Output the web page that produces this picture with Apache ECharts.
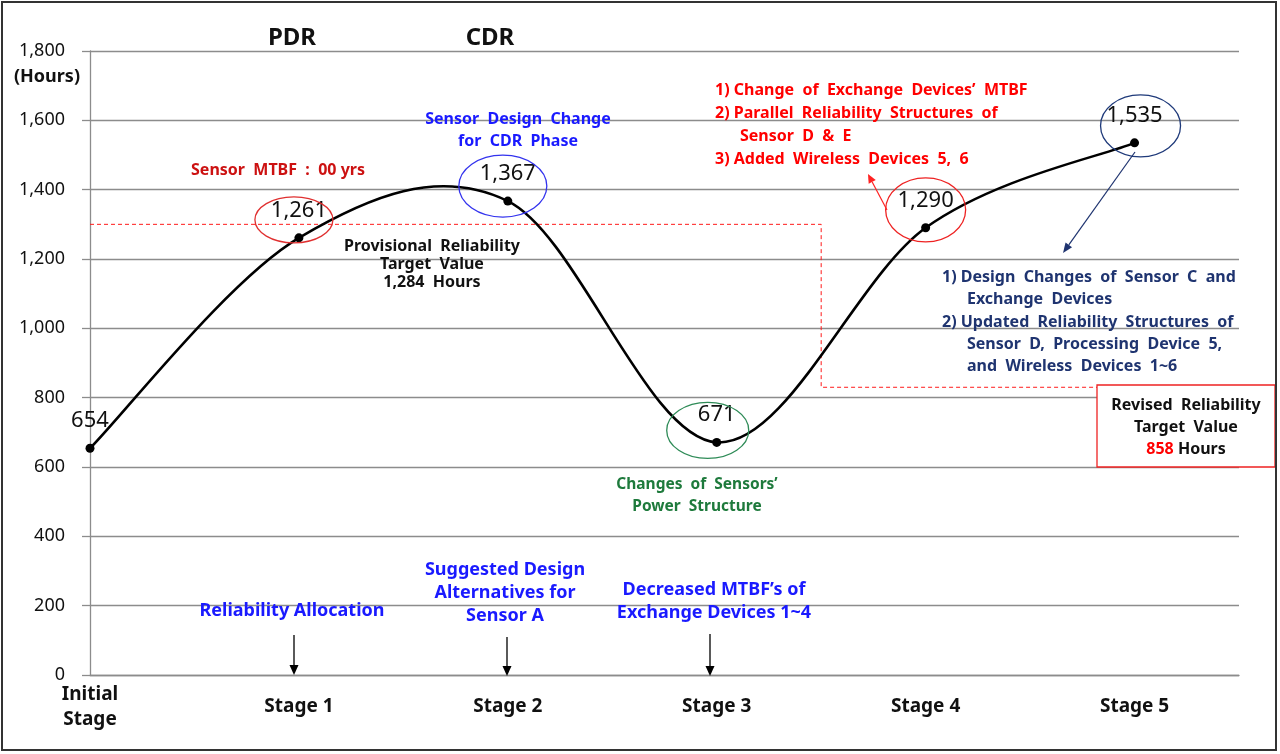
<!DOCTYPE html>
<html><head><meta charset="utf-8">
<script src="https://cdn.jsdelivr.net/npm/echarts@6/dist/echarts.min.js"></script>
<style>html,body{margin:0;padding:0;background:#fff}#c{width:1280px;height:754px}</style>
</head><body><div id="c"></div>
<script>
// ---- data ----
const categories = ['Initial Stage', 'Stage 1', 'Stage 2', 'Stage 3', 'Stage 4', 'Stage 5'];
const mtbfValues = [654, 1261, 1367, 671, 1290, 1535];
const yTickValues = [0, 200, 400, 600, 800, 1000, 1200, 1400, 1600, 1800];
const targetStepX = [0, 3.5, 3.5, 4.83];
const targetStepY = [1300, 1300, 830, 830];
const milestoneLabels = ['PDR', 'CDR'];

const FONT = '"Noto Sans", "Open Sans", sans-serif';
const chart = echarts.init(document.getElementById('c'), null, { renderer: 'canvas' });

const fmt = v => Number(v).toLocaleString('en-US');
const pointData = mtbfValues.map((v, i) => [i, v]);
const N = mtbfValues.length;

// Excel-like smoothed curve (Catmull-Rom style Bezier segments) through the data points
function renderSegment(params, api) {
  const i = params.dataIndex;
  if (i >= N - 1) return null;
  const P = k => { const j = Math.max(0, Math.min(N - 1, k)); return api.coord([j, mtbfValues[j]]); };
  const p0 = P(i - 1), p1 = P(i), p2 = P(i + 1), p3 = P(i + 2);
  const t = 1 / 6;
  return {
    type: 'bezierCurve',
    shape: {
      x1: p1[0], y1: p1[1], x2: p2[0], y2: p2[1],
      cpx1: p1[0] + (p2[0] - p0[0]) * t, cpy1: p1[1] + (p2[1] - p0[1]) * t,
      cpx2: p2[0] - (p3[0] - p1[0]) * t, cpy2: p2[1] - (p3[1] - p1[1]) * t
    },
    style: { stroke: '#000', lineWidth: 2.6, fill: null }
  };
}

chart.setOption({
  backgroundColor: '#ffffff',
  animation: false,
  grid: { left: 90, right: 41, top: 51, bottom: 79, containLabel: false },
  xAxis: {
    type: 'value', min: 0, max: 5.5, interval: 1,
    axisLine: { show: true, lineStyle: { color: '#8c8c8c', width: 1.3 } },
    axisTick: { show: false },
    splitLine: { show: false },
    axisLabel: {
      margin: 7, verticalAlign: 'top',
      formatter: v => {
        if (Math.abs(v - Math.round(v)) > 1e-6 || v > categories.length - 1) return '';
        const name = categories[Math.round(v)];
        if (Math.round(v) === 0) return name.split(' ').map(s => '{a|' + s + '}').join('\n');
        return '{b|' + name + '}';
      },
      rich: {
        a: { fontFamily: FONT, fontWeight: 'bold', fontSize: 19, color: '#111', lineHeight: 25 },
        b: { fontFamily: FONT, fontWeight: 'bold', fontSize: 19, color: '#111', lineHeight: 50 }
      }
    }
  },
  yAxis: {
    type: 'value', min: 0, max: 1800, interval: 200,
    axisLine: { show: true, lineStyle: { color: '#8c8c8c', width: 1.3 } },
    axisTick: { show: true, length: 8, lineStyle: { color: '#8c8c8c', width: 1.3 } },
    splitLine: { show: true, lineStyle: { color: '#8c8c8c', width: 1.3 } },
    axisLabel: {
      margin: 25, fontFamily: FONT, fontSize: 18, color: '#111',
      formatter: v => yTickValues.includes(v) ? fmt(v) : ''
    }
  },
  series: [
    {
      name: 'Target', type: 'line', symbol: 'none', silent: true, z: 1,
      data: targetStepX.map((x, i) => [x, targetStepY[i]]),
      lineStyle: { color: '#ff1a1a', width: 1, type: [4, 3] }
    },
    {
      name: 'MTBF curve', type: 'custom', z: 4, silent: true,
      data: pointData, renderItem: renderSegment
    },
    {
      name: 'MTBF', type: 'scatter', z: 6,
      data: pointData,
      symbol: 'circle', symbolSize: 9,
      itemStyle: { color: '#000', opacity: 1 },
      label: {
        show: true, position: 'top', distance: 12, opacity: 1,
        fontFamily: FONT, fontSize: 22, color: '#111',
        formatter: p => fmt(p.value[1])
      }
    }
  ]
});

// ---- annotations ----
function pt(i) { return chart.convertToPixel({ gridIndex: 0 }, [i, mtbfValues[i]]); }
function txt(text, x, y, fill, size, opts) {
  opts = opts || {};
  return {
    type: 'text', z: opts.z || 20, silent: true,
    style: Object.assign({
      text: text, x: x, y: y, fill: fill,
      font: (opts.weight || 'bold') + ' ' + size + 'px ' + FONT,
      align: opts.align || 'center', verticalAlign: 'middle',
      lineHeight: opts.lineHeight || 22
    }, opts.extra || {})
  };
}
function arrow(x1, y1, x2, y2, color, w, hl, hw) {
  const dx = x2 - x1, dy = y2 - y1, L = Math.hypot(dx, dy);
  const ux = dx / L, uy = dy / L;
  const bx = x2 - ux * hl, by = y2 - uy * hl;
  return [
    { type: 'line', z: 20, silent: true, shape: { x1: x1, y1: y1, x2: bx, y2: by }, style: { stroke: color, lineWidth: w } },
    { type: 'polygon', z: 20, silent: true, shape: { points: [[x2, y2], [bx - uy * hw, by + ux * hw], [bx + uy * hw, by - ux * hw]] }, style: { fill: color } }
  ];
}
function ell(i, dx, dy, rx, ry, color) {
  const p = pt(i);
  return { type: 'ellipse', z: 15, silent: true, shape: { cx: p[0] + dx, cy: p[1] + dy, rx: rx, ry: ry }, style: { fill: 'none', stroke: color, lineWidth: 1.3 } };
}

const RED = '#ff0000', DRED = '#cc1111', BLUE = '#1a1aff', NAVY = '#1f3470', GREEN = '#1e7a3c';
let g = [];
g.push({ type: 'rect', z: 30, silent: true, shape: { x: 2, y: 2, width: 1274, height: 748 }, style: { fill: 'none', stroke: '#333', lineWidth: 2 } });
g.push(txt('(Hours)', 47, 77, '#111', 18));
g.push(txt(milestoneLabels[0], 292, 38, '#111', 24));
g.push(txt(milestoneLabels[1], 490, 38, '#111', 24));
g.push(ell(1, -5, -18, 39, 23, '#e03030'));
g.push(ell(2, -5, -15, 44, 31, '#3333ee'));
g.push(ell(3, -9, -12, 41, 28, '#2e8b57'));
g.push(ell(4, 0, -18, 40, 32, '#ee2222'));
g.push(ell(5, 6, -17, 40, 31, '#1f3a7a'));
g.push(txt('Sensor  MTBF  :  00 yrs', 278, 170, DRED, 16));
g.push(txt('Sensor  Design  Change\nfor  CDR  Phase', 518, 130, BLUE, 16));
g.push(txt('Provisional  Reliability\nTarget  Value\n1,284  Hours', 432, 264, '#111', 16, { lineHeight: 18 }));
g.push(txt('Changes  of  Sensors\u2019\nPower  Structure', 697, 496, GREEN, 15.5));
g.push(txt('1) Change  of  Exchange  Devices\u2019  MTBF\n2) Parallel  Reliability  Structures  of\n      Sensor  D  &  E\n3) Added  Wireless  Devices  5,  6', 715, 125, RED, 16, { align: 'left', lineHeight: 23 }));
g.push(txt('1) Design  Changes  of  Sensor  C  and\n      Exchange  Devices\n2) Updated  Reliability  Structures  of\n      Sensor  D,  Processing  Device  5,\n      and  Wireless  Devices  1~6', 942, 322, NAVY, 16, { align: 'left', lineHeight: 22.3 }));
g.push({ type: 'rect', z: 25, silent: true, shape: { x: 1097, y: 385, width: 178, height: 82 }, style: { fill: '#fff', stroke: '#ee2222', lineWidth: 1.3 } });
g.push(txt('Revised  Reliability\nTarget  Value\n{r|858} Hours', 1186, 427, '#111', 16, { z: 26, lineHeight: 22, extra: { rich: { r: { fill: RED, font: 'bold 16px ' + FONT } } } }));
g.push(txt('Reliability Allocation', 292, 611, BLUE, 18));
g.push(txt('Suggested Design\nAlternatives for\nSensor A', 505, 593, BLUE, 18, { lineHeight: 23 }));
g.push(txt('Decreased MTBF\u2019s of\nExchange Devices 1~4', 714, 601, BLUE, 18, { lineHeight: 23 }));
g = g.concat(arrow(294, 635, 294, 675, '#000', 1.3, 10, 4.5));
g = g.concat(arrow(507, 637, 507, 676, '#000', 1.3, 10, 4.5));
g = g.concat(arrow(710, 634, 710, 676, '#000', 1.3, 10, 4.5));
g = g.concat(arrow(887, 210, 868, 174, '#ff2222', 1.2, 9, 4));
g = g.concat(arrow(1135, 152, 1063, 253, NAVY, 1.2, 10, 4));

chart.setOption({ graphic: g });
</script></body></html>
